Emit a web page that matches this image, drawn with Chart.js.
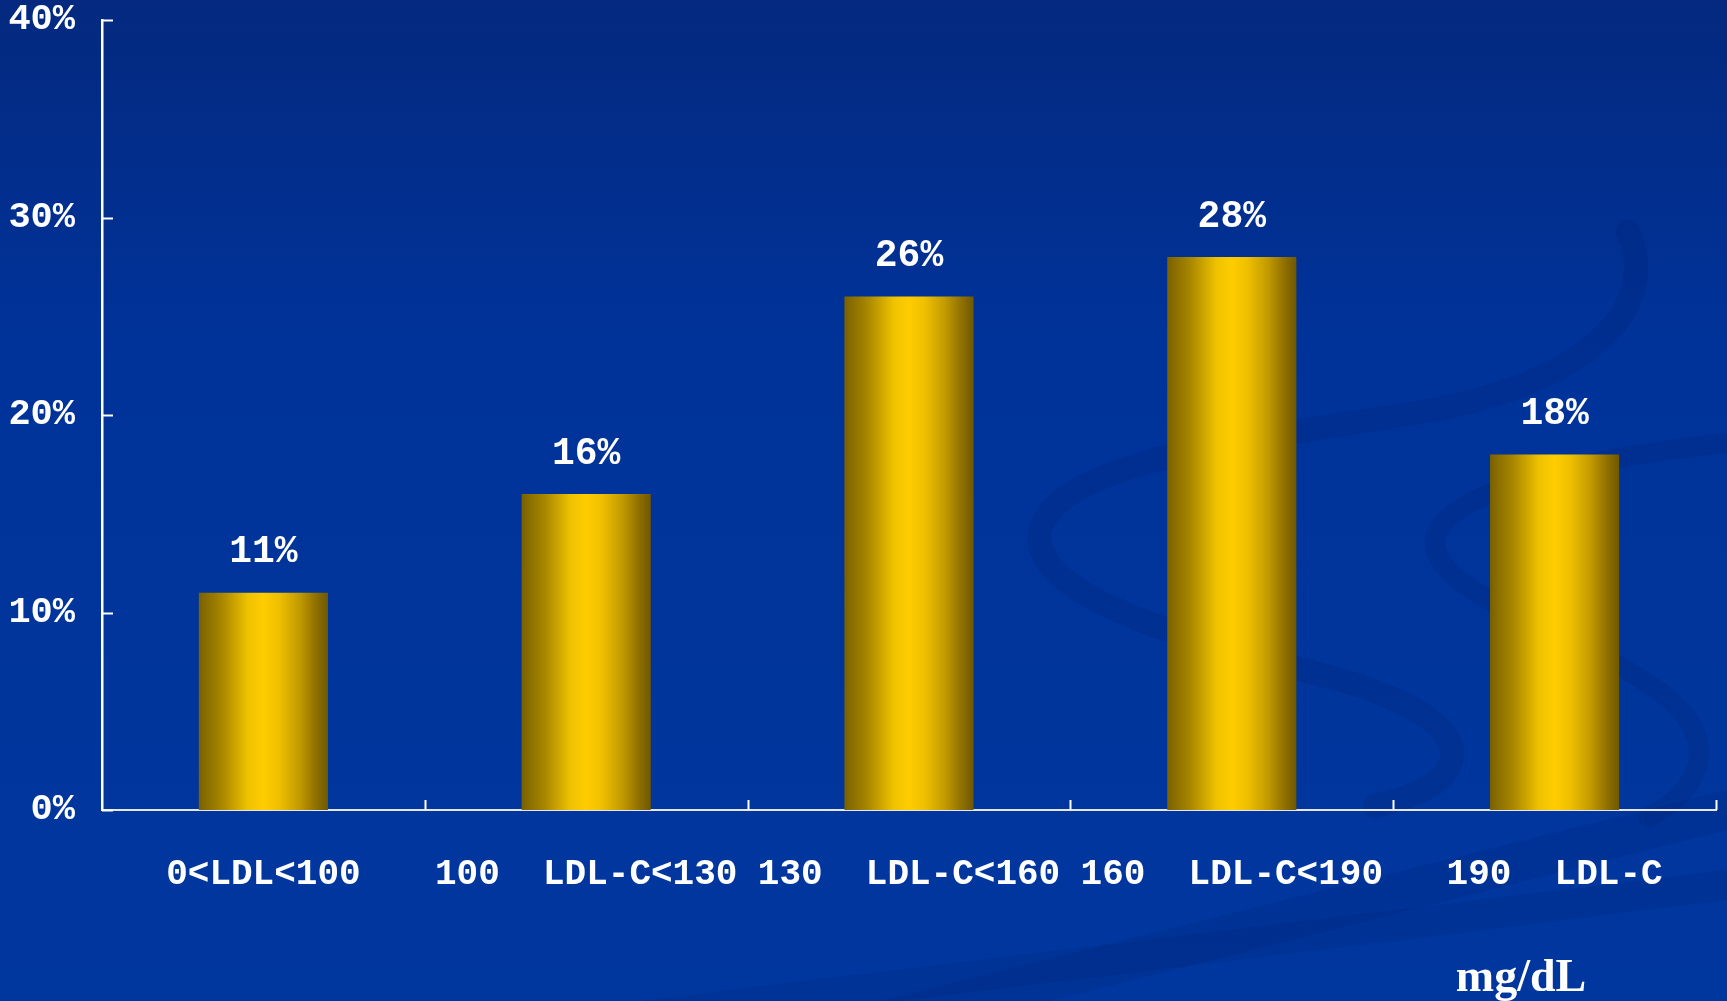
<!DOCTYPE html>
<html>
<head>
<meta charset="utf-8">
<script src="https://cdn.jsdelivr.net/npm/chart.js@4.4.1/dist/chart.umd.min.js"></script>
<style>
  html, body { margin: 0; padding: 0; background: #00359b; }
  #wrap { width: 1727px; height: 1001px; position: relative; }
</style>
</head>
<body>
<div id="wrap"><canvas id="ldlChart"></canvas></div>
<script>
// 데이터
const categories = ['0<LDL<100', '100  LDL-C<130', '130  LDL-C<160', '160  LDL-C<190', '190  LDL-C'];
const percentValues = [11, 16, 26, 28, 18];
const yTickValues = [0, 10, 20, 30, 40];
const unitLabel = 'mg/dL';

const monoFont = '"Liberation Mono", "Courier New", monospace';

// 배경 + 장식 곡선
const backgroundPlugin = {
    id: 'slideBackground',
    beforeDraw(chart) {
        const ctx = chart.ctx;
        const w = chart.width, h = chart.height;
        ctx.save();
        const bg = ctx.createLinearGradient(0, 0, 0, h);
        bg.addColorStop(0, '#04297f');
        bg.addColorStop(0.35, '#00339a');
        bg.addColorStop(1, '#00379e');
        ctx.fillStyle = bg;
        ctx.fillRect(0, 0, w, h);

        ctx.strokeStyle = 'rgba(0, 28, 110, 0.2)';
        ctx.lineCap = 'round';
        // 큰 S 곡선
        ctx.lineWidth = 24;
        ctx.beginPath();
        ctx.moveTo(1628, 232);
        ctx.bezierCurveTo(1660, 300, 1600, 380, 1427, 411);
        ctx.bezierCurveTo(1250, 440, 1060, 460, 1040, 530);
        ctx.bezierCurveTo(1030, 590, 1150, 630, 1322, 675);
        ctx.bezierCurveTo(1480, 715, 1490, 780, 1375, 806);
        ctx.stroke();
        // 오른쪽 고리
        ctx.lineWidth = 20;
        ctx.beginPath();
        ctx.moveTo(1727, 443);
        ctx.bezierCurveTo(1560, 460, 1430, 500, 1435, 545);
        ctx.bezierCurveTo(1440, 600, 1600, 640, 1670, 700);
        ctx.bezierCurveTo(1720, 745, 1700, 790, 1649, 817);
        ctx.stroke();
        // 하단 사선 띠
        ctx.fillStyle = 'rgba(0, 28, 110, 0.16)';
        ctx.beginPath();
        ctx.moveTo(880, 1001);
        ctx.lineTo(1727, 790);
        ctx.lineTo(1727, 830);
        ctx.lineTo(1050, 1001);
        ctx.closePath();
        ctx.fill();
        ctx.beginPath();
        ctx.moveTo(640, 1001);
        ctx.lineTo(1727, 870);
        ctx.lineTo(1727, 900);
        ctx.lineTo(900, 1001);
        ctx.closePath();
        ctx.fill();
        ctx.restore();
    }
};

// 축 안쪽 눈금, 값 라벨, 단위
const overlayPlugin = {
    id: 'overlay',
    afterDraw(chart) {
        const ctx = chart.ctx;
        const xs = chart.scales.x, ys = chart.scales.y;
        const area = chart.chartArea;
        ctx.save();
        ctx.strokeStyle = '#ffffff';
        ctx.lineWidth = 2;
        // y 눈금 (안쪽)
        yTickValues.forEach(v => {
            const y = Math.round(ys.getPixelForValue(v)) + 0.5;
            ctx.beginPath();
            ctx.moveTo(area.left, y);
            ctx.lineTo(area.left + 11, y);
            ctx.stroke();
        });
        // x 눈금 (카테고리 경계, 위쪽)
        for (let i = 0; i < categories.length; i++) {
            const x = i < categories.length - 1
                ? (xs.getPixelForValue(i) + xs.getPixelForValue(i + 1)) / 2
                : area.right;
            ctx.beginPath();
            ctx.moveTo(Math.round(x) + 0.5, area.bottom);
            ctx.lineTo(Math.round(x) + 0.5, area.bottom - 10);
            ctx.stroke();
        }
        // 값 라벨
        const meta = chart.getDatasetMeta(0);
        ctx.fillStyle = '#ffffff';
        ctx.font = 'bold 38px ' + monoFont;
        ctx.textAlign = 'center';
        ctx.textBaseline = 'middle';
        meta.data.forEach((bar, i) => {
            ctx.fillText(percentValues[i] + '%', bar.x, bar.y - 40);
        });
        // 단위
        ctx.font = 'bold 46px "Liberation Serif", "Times New Roman", serif';
        ctx.textBaseline = 'alphabetic';
        ctx.fillText(unitLabel, 1521, 991);
        ctx.restore();
    }
};

function barGradient(c) {
    const chart = c.chart;
    const xs = chart.scales.x;
    if (!xs || !chart.chartArea) return '#ffcc00';
    const cx = xs.getPixelForValue(c.dataIndex);
    const half = (xs.width / categories.length) * 0.4 / 2;
    const g = chart.ctx.createLinearGradient(cx - half, 0, cx + half, 0);
    g.addColorStop(0, '#7a6100');
    g.addColorStop(0.18, '#a98700');
    g.addColorStop(0.38, '#efc200');
    g.addColorStop(0.5, '#ffcc00');
    g.addColorStop(0.62, '#efc000');
    g.addColorStop(0.78, '#c29a00');
    g.addColorStop(0.92, '#8a6c00');
    g.addColorStop(1, '#6f5800');
    return g;
}

new Chart(document.getElementById('ldlChart'), {
    type: 'bar',
    data: {
        labels: categories,
        datasets: [{
            data: percentValues,
            backgroundColor: barGradient,
            borderWidth: 0,
            barPercentage: 0.5,
            categoryPercentage: 0.8
        }]
    },
    options: {
        responsive: true,
        maintainAspectRatio: false,
        animation: false,
        layout: { padding: { top: 20, left: 0, right: 11, bottom: 0 } },
        plugins: {
            legend: { display: false },
            tooltip: { enabled: false }
        },
        scales: {
            x: {
                grid: { display: false },
                border: { display: true, color: '#e4e6f0', width: 2 },
                ticks: {
                    color: '#ffffff',
                    padding: 35,
                    maxRotation: 0,
                    autoSkip: false,
                    font: { family: monoFont, size: 36, weight: 'bold' }
                },
                afterFit(scale) {
                    scale.height = 191;
                    scale.paddingLeft = 0;
                    scale.paddingRight = 0;
                }
            },
            y: {
                min: 0,
                max: 40,
                grid: { display: false },
                border: { display: true, color: '#ffffff', width: 2.5 },
                ticks: {
                    stepSize: 10,
                    color: '#ffffff',
                    padding: 19,
                    font: { family: monoFont, size: 37, weight: 'bold' },
                    callback: v => v + '%'
                },
                afterFit(scale) {
                    scale.width = 102;
                    scale.paddingTop = 0;
                    scale.paddingBottom = 0;
                }
            }
        }
    },
    plugins: [backgroundPlugin, overlayPlugin]
});
</script>
</body>
</html>
